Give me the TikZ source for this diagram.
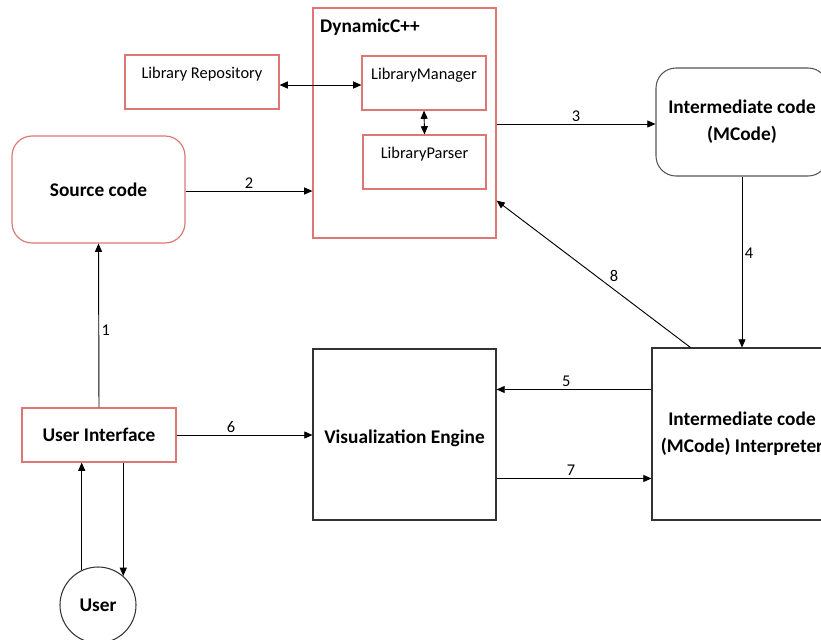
\documentclass[tikz,border=0pt]{standalone}
\usepackage{fontspec}
\setmainfont{Carlito}
\usetikzlibrary{arrows.meta, positioning, calc}
\definecolor{boxred}{RGB}{222,118,118}
\definecolor{boxgray}{RGB}{85,85,85}
\begin{document}
\begin{tikzpicture}[x=0.03cm, y=-0.03cm,
    redbox/.style={draw=boxred, line width=1pt, font=\fontsize{16.5}{19}\selectfont\bfseries},
    blackbox/.style={draw=black!80, line width=0.9pt, align=center, font=\fontsize{16.5}{23}\selectfont\bfseries},
    toptext/.style={label={[anchor=north, inner sep=0pt, yshift=-11pt, font=\fontsize{14}{16}\selectfont]north:#1}},
    arr/.style={-{Triangle[length=7pt, width=6pt]}, line width=0.8pt},
    biarr/.style={{Triangle[length=7pt, width=6pt]}-{Triangle[length=7pt, width=6pt]}, line width=0.8pt},
    num/.style={font=\fontsize{14}{16}\selectfont, inner sep=2pt}]
    \useasboundingbox (0,0) rectangle (821,639);
        \node[redbox, minimum width=5.49cm, minimum height=6.9cm] (dyn) at (404.5,123) {};
        \node[anchor=west, font=\fontsize{16.5}{19}\selectfont\bfseries, inner sep=0pt] (dyntitle) at (320,27) {DynamicC++};
        \node[redbox, minimum width=4.62cm, minimum height=1.62cm, toptext={Library Repository}] (repo) at (202,82) {};
        \node[redbox, minimum width=3.72cm, minimum height=1.62cm, toptext={LibraryManager}] (mgr) at (424,83) {};
        \node[redbox, minimum width=3.69cm, minimum height=1.62cm, toptext={LibraryParser}] (parser) at (424.5,162) {};
        \node[redbox, rounded corners=0.6cm, minimum width=5.19cm, minimum height=3.21cm] (src) at (98.5,189.5) {Source code};
        \node[blackbox, draw=boxgray, rounded corners=0.6cm, minimum width=5.16cm, minimum height=3.24cm] (mcode) at (742,122) {Intermediate code\\(MCode)};
        \node[blackbox, minimum width=5.4cm, minimum height=5.16cm] (interp) at (742,434) {Intermediate code\\(MCode) Interpreter};
        \node[blackbox, minimum width=5.49cm, minimum height=5.13cm, text height=18pt] (vis) at (404.5,434.5) {Visualization Engine};
        \node[redbox, minimum width=4.62cm, minimum height=1.62cm] (ui) at (99,435) {User Interface};
        \node[draw=black!80, line width=0.9pt, circle, minimum size=2.28cm, font=\fontsize{16.5}{19}\selectfont\bfseries] (user) at (98,605) {User};
        \draw[biarr] ($(repo.east)+(0,3)$) -- ($(repo.east -| mgr.west)+(0,3)$);
        \draw[biarr] (mgr.south) -- (parser.south |- parser.north);
        \draw[arr] ($(src.east)+(0,1.5)$) -- node[num, above] {2} ($(src.east -| dyn.west)+(0,1.5)$);
        \draw[arr] ($(mcode.west -| dyn.east)+(0,2)$) -- node[num, above] {3} ($(mcode.west)+(0,2)$);
        \draw[arr] (mcode.south) -- node[num, right, pos=0.45] {4} (interp.north);
        \draw[arr] ($(interp.north west)+(0,42)$) -- node[num, above, pos=0.55] {5} ($(interp.north west -| vis.east)+(0,42)$);
        \draw[arr] ($(vis.north east)+(0,130)$) -- node[num, above, pos=0.48] {7} ($(interp.north west)+(0,131)$);
        \draw[arr] ($(interp.north west)+(39,0)$) -- node[num, above right, pos=0.43] {8} ($(dyn.south east)+(0,-38)$);
        \draw[arr] (ui.east) -- node[num, above, pos=0.4] {6} (ui.east -| vis.west);
        \draw[arr] (ui.north) -- node[num, right, pos=0.47] {1} (src.south);
        \draw[arr] (user.115) -- (user.115 |- ui.south);
        \draw[arr] (ui.south -| user.49) -- (user.49);
    \end{tikzpicture}
\end{document}
